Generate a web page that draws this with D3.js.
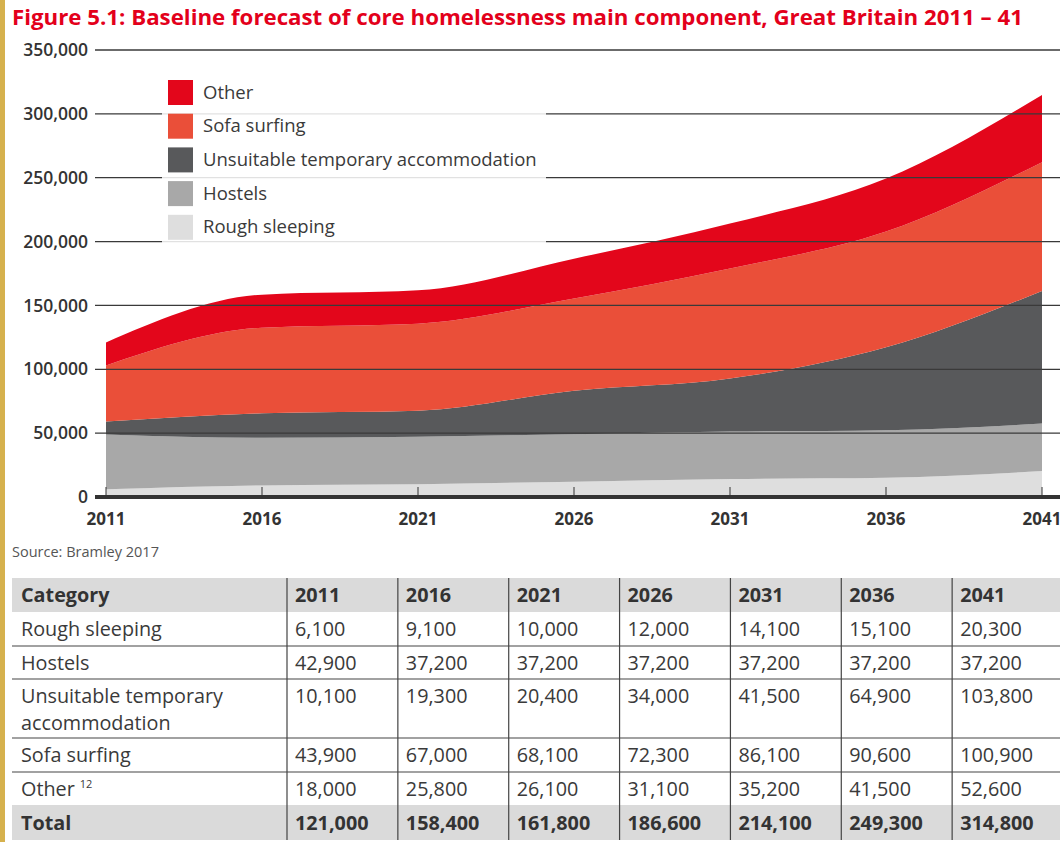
<!DOCTYPE html>
<html>
<head>
<meta charset="utf-8">
<script src="https://cdn.jsdelivr.net/npm/d3@7"></script>
<style>
  body { margin: 0; background: #fff; }
  svg { display: block; font-family: "Open Sans", Lato, sans-serif; }
</style>
</head>
<body>
<svg id="chart" width="1060" height="842"></svg>
<script>
let years = [2011, 2016, 2021, 2026, 2031, 2036, 2041];
let rough_sleeping = [6100, 9100, 10000, 12000, 14100, 15100, 20300];
let hostels = [42900, 37200, 37200, 37200, 37200, 37200, 37200];
let unsuitable_temp = [10100, 19300, 20400, 34000, 41500, 64900, 103800];
let sofa_surfing = [43900, 67000, 68100, 72300, 86100, 90600, 100900];
let other = [18000, 25800, 26100, 31100, 35200, 41500, 52600];
let totals = [121000, 158400, 161800, 186600, 214100, 249300, 314800];
let y_ticks = [0, 50000, 100000, 150000, 200000, 250000, 300000, 350000];

let series_keys = ['rough', 'hostels', 'unsuitable', 'sofa', 'other'];
let series_names = {
    rough: 'Rough sleeping',
    hostels: 'Hostels',
    unsuitable: 'Unsuitable temporary accommodation',
    sofa: 'Sofa surfing',
    other: 'Other'
};
let colours = {
    rough: '#dedede',
    hostels: '#a8a8a8',
    unsuitable: '#58595b',
    sofa: '#ea4f39',
    other: '#e3061b'
};

let rows = years.map((yr, i) => ({
    year: yr,
    rough: rough_sleeping[i],
    hostels: hostels[i],
    unsuitable: unsuitable_temp[i],
    sofa: sofa_surfing[i],
    other: other[i]
}));

let svg = d3.select('#chart');

// gold strip down the left edge
svg.append('rect').attr('x', 0).attr('y', 0).attr('width', 5).attr('height', 842).attr('fill', '#d6b14d');

// title
svg.append('text')
    .attr('x', 12).attr('y', 25)
    .attr('fill', '#e3001b')
    .attr('font-weight', 700)
    .attr('font-size', 20.5)
    .attr('textLength', 1011)
    .attr('lengthAdjust', 'spacingAndGlyphs')
    .text('Figure 5.1: Baseline forecast of core homelessness main component, Great Britain 2011 \u2013 41');

// scales
let xScale = d3.scaleLinear().domain([2011, 2041]).range([106, 1042]);
let yScale = d3.scaleLinear().domain([0, 350000]).range([497, 50]);

let stack = d3.stack().keys(series_keys);
let stacked = stack(rows);

let area = d3.area()
    .x(d => xScale(d.data.year))
    .y0(d => yScale(d[0]))
    .y1(d => yScale(d[1]))
    .curve(d3.curveMonotoneX);

svg.append('g').attr('id', 'areas')
    .selectAll('path')
    .data(stacked)
    .join('path')
    .attr('d', area)
    .attr('fill', d => colours[d.key]);

// gridlines over the areas
let grid = svg.append('g').attr('id', 'grid');
grid.selectAll('line')
    .data(y_ticks.filter(t => t > 0))
    .join('line')
    .attr('x1', 95).attr('x2', 1060)
    .attr('y1', d => yScale(d)).attr('y2', d => yScale(d))
    .attr('stroke', '#3a3a3a')
    .attr('stroke-width', 1.3);

// legend, its box partly hides the grid lines
let legend = svg.append('g').attr('id', 'legend');
legend.append('rect')
    .attr('x', 162).attr('y', 72).attr('width', 384).attr('height', 174)
    .attr('fill', '#fff').attr('fill-opacity', 0.85);

let legend_order = ['other', 'sofa', 'unsuitable', 'hostels', 'rough'];
let li = legend.selectAll('g.item')
    .data(legend_order)
    .join('g')
    .attr('class', 'item')
    .attr('transform', (d, i) => `translate(168, ${80 + i * 33.7})`);
li.append('rect')
    .attr('width', 25).attr('height', 25)
    .attr('fill', d => colours[d]);
li.append('text')
    .attr('x', 35).attr('y', 18.5)
    .attr('font-size', 18.5)
    .attr('fill', '#3a3a3a')
    .text(d => series_names[d]);

// y axis labels
svg.append('g').attr('id', 'y-axis')
    .selectAll('text')
    .data(y_ticks)
    .join('text')
    .attr('x', 88)
    .attr('y', d => yScale(d))
    .attr('dy', '0.35em')
    .attr('text-anchor', 'end')
    .attr('font-size', 17.5)
    .attr('font-weight', 600)
    .attr('fill', '#333')
    .text(d => d3.format(',')(d));

// x axis: thick baseline + small up-ticks
let xAxis = svg.append('g').attr('id', 'x-axis');
xAxis.append('line')
    .attr('x1', 95).attr('x2', 1060)
    .attr('y1', yScale(0)).attr('y2', yScale(0))
    .attr('stroke', '#333').attr('stroke-width', 4);
xAxis.selectAll('line.tick')
    .data(years)
    .join('line')
    .attr('class', 'tick')
    .attr('x1', d => xScale(d)).attr('x2', d => xScale(d))
    .attr('y1', yScale(0)).attr('y2', yScale(0) - 10)
    .attr('stroke', '#333').attr('stroke-width', 1);
xAxis.selectAll('text')
    .data(years)
    .join('text')
    .attr('x', d => xScale(d))
    .attr('y', 525)
    .attr('text-anchor', 'middle')
    .attr('font-size', 17)
    .attr('font-weight', 700)
    .attr('fill', '#333')
    .text(d => d);

// source
svg.append('text')
    .attr('x', 12).attr('y', 557)
    .attr('font-size', 14.5)
    .attr('fill', '#555')
    .text('Source: Bramley 2017');

// table
let table_rows = [
    { label: ['Rough sleeping'], values: rough_sleeping },
    { label: ['Hostels'], values: hostels },
    { label: ['Unsuitable temporary', 'accommodation'], values: unsuitable_temp },
    { label: ['Sofa surfing'], values: sofa_surfing },
    { label: ['Other'], values: other, sup: '12' }
];
let row_tops = [612, 646, 679, 738, 772];
let header_top = 578, total_top = 805, table_bottom = 840;

let colScale = d3.scaleBand().domain(years).range([287, 1063]);
let fmt = d3.format(',');
let tbl = svg.append('g').attr('id', 'table');

tbl.append('rect').attr('x', 12).attr('y', header_top).attr('width', 1048).attr('height', 34).attr('fill', '#dadada');
tbl.append('rect').attr('x', 12).attr('y', total_top).attr('width', 1048).attr('height', table_bottom - total_top).attr('fill', '#dadada');

// horizontal rules under body rows
tbl.selectAll('line.h')
    .data(row_tops.slice(1))
    .join('line')
    .attr('class', 'h')
    .attr('x1', 12).attr('x2', 1060)
    .attr('y1', d => d).attr('y2', d => d)
    .attr('stroke', '#444').attr('stroke-width', 1.2);

// vertical rules
tbl.selectAll('line.v')
    .data(years)
    .join('line')
    .attr('class', 'v')
    .attr('x1', d => colScale(d)).attr('x2', d => colScale(d))
    .attr('y1', header_top).attr('y2', table_bottom)
    .attr('stroke', '#444').attr('stroke-width', 1.2);

let cell_font = 19.8;

// header
tbl.append('text').attr('x', 21).attr('y', header_top + 24)
    .attr('font-size', cell_font).attr('font-weight', 700).attr('fill', '#333')
    .text('Category');
tbl.selectAll('text.hy')
    .data(years)
    .join('text')
    .attr('class', 'hy')
    .attr('x', d => colScale(d) + 8).attr('y', header_top + 24)
    .attr('font-size', cell_font).attr('font-weight', 700).attr('fill', '#333')
    .text(d => d);

// body rows
table_rows.forEach((r, ri) => {
    let top = row_tops[ri];
    let lab = tbl.append('text')
        .attr('x', 21).attr('y', top + 24)
        .attr('font-size', cell_font).attr('fill', '#3a3a3a');
    r.label.forEach((line, k) => {
        lab.append('tspan').attr('x', 21).attr('dy', k === 0 ? 0 : 27).text(line);
    });
    if (r.sup) {
        lab.append('tspan').attr('dx', 5).attr('dy', -8).attr('font-size', 11).text(r.sup);
    }
    tbl.selectAll(null)
        .data(r.values)
        .join('text')
        .attr('x', (d, i) => colScale(years[i]) + 8)
        .attr('y', top + 24)
        .attr('font-size', cell_font).attr('fill', '#3a3a3a')
        .text(d => fmt(d));
});

// total row
tbl.append('text').attr('x', 21).attr('y', total_top + 25)
    .attr('font-size', cell_font).attr('font-weight', 700).attr('fill', '#333')
    .text('Total');
tbl.selectAll('text.tot')
    .data(totals)
    .join('text')
    .attr('class', 'tot')
    .attr('x', (d, i) => colScale(years[i]) + 8).attr('y', total_top + 25)
    .attr('font-size', cell_font).attr('font-weight', 700).attr('fill', '#333')
    .text(d => fmt(d));
</script>
</body>
</html>
